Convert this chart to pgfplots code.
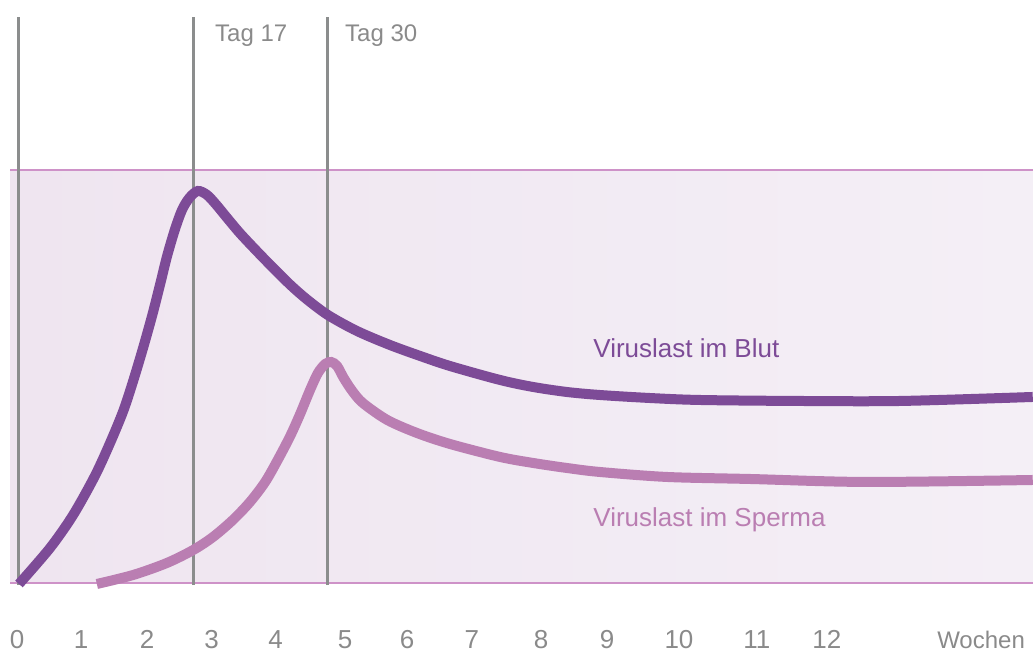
\documentclass[border=0pt]{standalone}
\usepackage{pgfplots}
\pgfplotsset{compat=1.18}
\usepackage{fontspec}
\setmainfont{Liberation Sans}
\definecolor{blut}{HTML}{7D4B97}
\definecolor{sperma}{HTML}{BA7EB2}
\definecolor{bandL}{HTML}{EFE5F0}
\definecolor{bandR}{HTML}{F4EFF6}
\definecolor{bandline}{HTML}{CE92C8}
\definecolor{vline}{HTML}{8B8D8D}
\definecolor{ticktext}{HTML}{8A8A8A}
\begin{document}
\begin{tikzpicture}
\begin{axis}[
  name=ax,
  at={(0,0)}, anchor=south west,
  scale only axis,
  width=1033pt, height=653pt,
  xmin=-0.2576, xmax=15.394,
  ymin=-16.95, ymax=141.16,
  axis line style={draw=none},
  tick style={draw=none},
  ytick=\empty,
  xtick={0,0.97,1.97,2.95,3.92,4.97,5.91,6.89,7.94,8.94,10.03,11.21,12.27},
  xticklabels={0,1,2,3,4,5,6,7,8,9,10,11,12},
  xticklabel style={anchor=base, inner sep=0pt, yshift=4pt, font=\fontsize{26}{30}\selectfont, text=ticktext},
  /pgf/number format/assume math mode=true,
  clip=false,
]
% background band
\addplot[draw=none, left color=bandL, right color=bandR] coordinates {(-0.106,0) (15.394,0) (15.394,100) (-0.106,100)} -- cycle;
\addplot[bandline, line width=2pt] coordinates {(-0.106,100) (15.394,100)};
\addplot[bandline, line width=2pt] coordinates {(-0.106,0) (15.394,0)};
% vertical markers
\addplot[vline, line width=3pt] coordinates {(0.03,-0.5) (0.03,137)};
\addplot[vline, line width=3pt] coordinates {(2.67,-0.5) (2.67,137)};
\addplot[vline, line width=3pt] coordinates {(4.71,-0.5) (4.71,137)};
% Viruslast im Sperma
\addplot[sperma, line width=10pt, smooth, tension=0.5] coordinates {
(1.21,-0.24) (1.76,1.94) (2.27,4.84) (2.67,7.99) (2.97,11.14) (3.27,15.25) (3.53,19.61)
(3.76,24.46) (3.95,29.78) (4.14,35.59) (4.29,40.92) (4.44,46.73) (4.56,50.85) (4.67,53.03)
(4.76,53.51) (4.85,52.54) (4.95,49.64) (5.08,46.49) (5.24,43.58) (5.61,39.47) (6.06,36.32)
(6.56,33.66) (7.32,30.51) (7.82,29.06) (8.33,27.85) (8.83,26.88) (9.85,25.67) (11.11,25.18)
(12.88,24.46) (15.39,24.94)};
% Viruslast im Blut
\addplot[blut, line width=10pt, smooth, tension=0.5] coordinates {
(0.03,-0.24) (0.50,8.47) (0.85,16.46) (1.18,25.91) (1.41,33.90) (1.61,41.65) (1.76,48.91)
(1.91,56.90) (2.05,64.89) (2.17,72.40) (2.27,78.93) (2.39,85.47) (2.50,90.31) (2.61,93.22)
(2.74,94.92) (2.88,93.95) (3.02,91.57) (3.17,88.65) (3.38,84.66) (3.64,80.24) (3.88,76.30)
(4.14,72.20) (4.39,68.70) (4.71,64.89) (5.15,61.02) (5.65,57.63) (6.11,54.96) (6.56,52.54)
(7.32,49.15) (7.82,47.46) (8.33,46.25) (8.83,45.52) (9.59,44.79) (10.35,44.31) (11.86,44.07)
(13.38,44.07) (15.39,45.04)};
% labels
\node[anchor=base west, inner sep=0pt, text=ticktext, font=\fontsize{24}{28}\selectfont] at (axis cs:3.0,131.0) {Tag 17};
\node[anchor=base west, inner sep=0pt, text=ticktext, font=\fontsize{24}{28}\selectfont] at (axis cs:4.97,131.0) {Tag 30};
\node[anchor=base west, inner sep=0pt, text=blut, font=\fontsize{26}{30}\selectfont] at (axis cs:8.73,54.7) {Viruslast im Blut};
\node[anchor=base west, inner sep=0pt, text=sperma, font=\fontsize{26}{30}\selectfont] at (axis cs:8.73,13.6) {Viruslast im Sperma};
\node[anchor=base west, inner sep=0pt, text=ticktext, font=\fontsize{24}{28}\selectfont] at (axis cs:13.94,-15.9) {Wochen};
\end{axis}
\pgfresetboundingbox
\path[use as bounding box] (ax.south west) rectangle (ax.north east);
\end{tikzpicture}
\end{document}
